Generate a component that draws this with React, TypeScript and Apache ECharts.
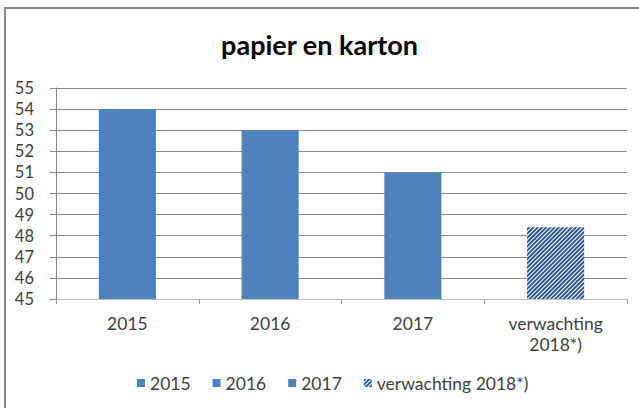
import React, { useEffect, useRef } from "react";
import * as echarts from "echarts";

const categories = ["2015", "2016", "2017", "verwachting\n2018*)"];
const seriesNames = ["2015", "2016", "2017", "verwachting 2018*)"];
const values2015 = [54, "-", "-", "-"];
const values2016 = ["-", 53, "-", "-"];
const values2017 = ["-", "-", 51, "-"];
const values2018 = ["-", "-", "-", 48.4];
const yTicks = { min: 45, max: 55, interval: 1 };

const BLUE = "#4F81BD";
const FONT = "Lato, 'Noto Sans', sans-serif";

export default function App() {
  const ref = useRef<HTMLDivElement>(null);
  useEffect(() => {
    const chart = echarts.init(ref.current!, null, { renderer: "svg" });
    const hatch = {
      symbol: "rect",
      color: "#2F5A94",
      dashArrayX: [1, 0],
      dashArrayY: [1.3, 1],
      rotation: -Math.PI / 4,
      symbolSize: 1,
    };
    const solid = (name: string, data: any[]) => ({
      name,
      type: "bar",
      data,
      barWidth: "40%",
      barGap: "-100%",
      itemStyle: { color: BLUE },
    });
    chart.setOption({
      animation: false,
      backgroundColor: "#ffffff",
      title: {
        text: "papier en karton",
        left: "center",
        top: 26,
        textStyle: { fontFamily: FONT, fontWeight: "bold", fontSize: 27, color: "#000" },
      },
      graphic: [
        {
          type: "rect",
          shape: { x: 5, y: 8, width: 700, height: 500 },
          style: { fill: "none", stroke: "#888888", lineWidth: 2 },
          silent: true,
        },
      ],
      legend: {
        bottom: 11,
        left: 132,
        itemWidth: 8,
        itemHeight: 8,
        itemGap: 22,
        icon: "rect",
        textStyle: { fontFamily: FONT, fontSize: 17.5, color: "#404040" },
        data: seriesNames,
      },
      grid: { left: 56, right: 12, top: 88, bottom: 109 },
      xAxis: {
        type: "category",
        data: categories,
        axisLine: { lineStyle: { color: "#BFBFBF", width: 1 } },
        axisTick: { show: true, length: 5, lineStyle: { color: "#9a9a9a" } },
        axisLabel: {
          fontFamily: FONT,
          fontSize: 17.5,
          color: "#404040",
          margin: 14,
          lineHeight: 21,
        },
      },
      yAxis: {
        type: "value",
        min: yTicks.min,
        max: yTicks.max,
        interval: yTicks.interval,
        axisLine: { show: true, lineStyle: { color: "#868686" } },
        axisTick: { show: true, length: 6, lineStyle: { color: "#868686" } },
        splitLine: { lineStyle: { color: "#8c8c8c" } },
        axisLabel: { fontFamily: FONT, fontSize: 16.5, color: "#404040", margin: 22 },
      },
      series: [
        solid(seriesNames[0], values2015),
        solid(seriesNames[1], values2016),
        solid(seriesNames[2], values2017),
        {
          name: seriesNames[3],
          type: "bar",
          data: values2018,
          barWidth: "40%",
          barGap: "-100%",
          itemStyle: { color: "#ffffff", decal: hatch },
        },
      ],
    });
    return () => chart.dispose();
  }, []);
  return <div ref={ref} style={{ width: 639, height: 408, position: "absolute", left: 0, top: 0 }} />;
}
